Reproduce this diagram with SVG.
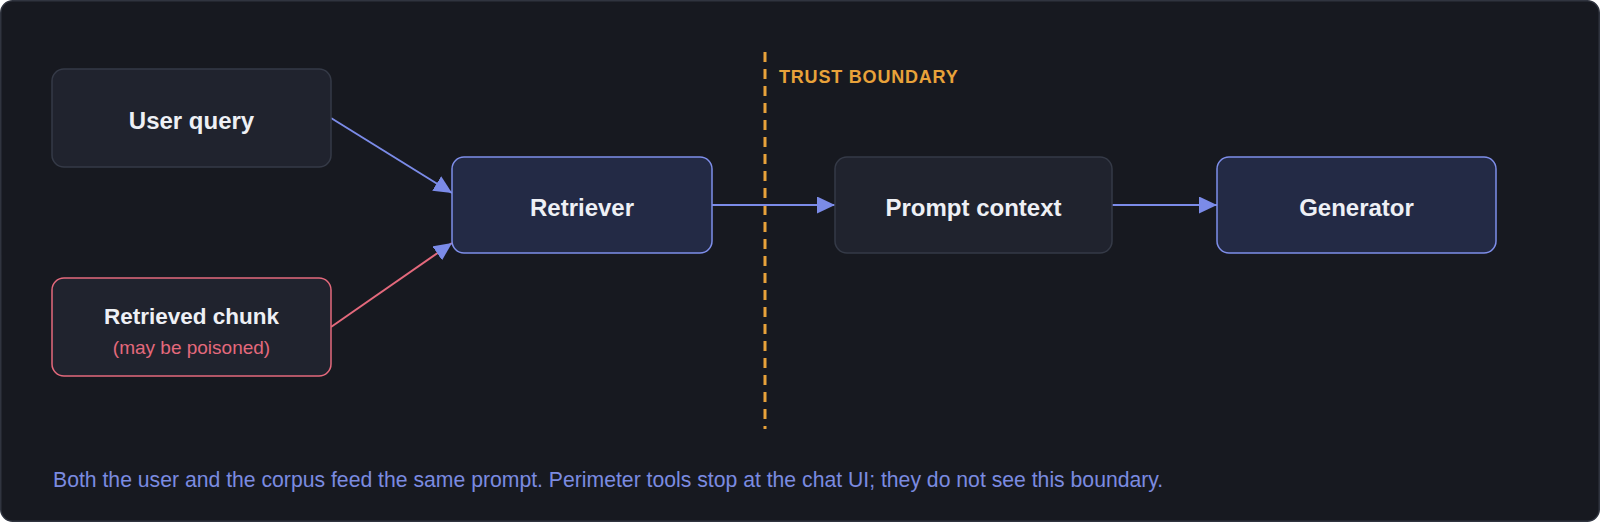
<svg xmlns="http://www.w3.org/2000/svg" width="1600" height="522" viewBox="0 0 1600 522">
<defs>
<style>
.frame{fill:#171920;stroke:#30343f;stroke-width:1.5}
.n-neutral{fill:#20232e;stroke:#353a47;stroke-width:1.5}
.n-blue{fill:#232a45;stroke:#7e8ee9;stroke-width:1.5}
.n-red{fill:#20232e;stroke:#e4697c;stroke-width:1.5}
.lbl{font-family:"Liberation Sans",Arial,sans-serif;font-weight:bold;font-size:24px;fill:#eef0f5;text-anchor:middle}
.sub{font-family:"Liberation Sans",Arial,sans-serif;font-size:19px;fill:#e4697c;text-anchor:middle}
.edge{fill:none;stroke:#7b8be8;stroke-width:2}
.edge-red{fill:none;stroke:#e4697c;stroke-width:2}
.boundary{stroke:#e8a23a;stroke-width:3;stroke-dasharray:10 7}
.blabel{font-family:"Liberation Sans",Arial,sans-serif;font-weight:bold;font-size:18px;letter-spacing:0.8px;fill:#e8a23a}
.foot{font-family:"Liberation Sans",Arial,sans-serif;font-size:21.2px;fill:#7b8be0}
</style>
<marker id="ah" markerUnits="userSpaceOnUse" markerWidth="18" markerHeight="17" refX="18" refY="8.5" orient="auto">
<path d="M0,0 L18,8.5 L0,17 Z" fill="#7b8be8"/>
</marker>
</defs>
<rect class="frame" x="0.75" y="0.75" width="1598.5" height="520.5" rx="12"/>

<g id="boundary">
<line class="boundary" x1="765" y1="52" x2="765" y2="429"/>
<text class="blabel" x="779" y="83">TRUST BOUNDARY</text>
</g>

<g id="connectors">
<line class="edge" x1="331" y1="118" x2="452" y2="193" marker-end="url(#ah)"/>
<line class="edge-red" x1="331" y1="327" x2="452" y2="243" marker-end="url(#ah)"/>
<line class="edge" x1="712" y1="205" x2="835" y2="205" marker-end="url(#ah)"/>
<line class="edge" x1="1112" y1="205" x2="1217" y2="205" marker-end="url(#ah)"/>
</g>

<g id="user-query">
<rect class="n-neutral" x="52" y="69" width="279" height="98" rx="12"/>
<text class="lbl" x="191.5" y="129">User query</text>
</g>

<g id="retrieved-chunk">
<rect class="n-red" x="52" y="278" width="279" height="98" rx="12"/>
<text class="lbl" x="191.5" y="324" style="font-size:22.5px">Retrieved chunk</text>
<text class="sub" x="191.5" y="354">(may be poisoned)</text>
</g>

<g id="retriever">
<rect class="n-blue" x="452" y="157" width="260" height="96" rx="12"/>
<text class="lbl" x="582" y="216">Retriever</text>
</g>

<g id="prompt-context">
<rect class="n-neutral" x="835" y="157" width="277" height="96" rx="12"/>
<text class="lbl" x="973.5" y="216">Prompt context</text>
</g>

<g id="generator">
<rect class="n-blue" x="1217" y="157" width="279" height="96" rx="12"/>
<text class="lbl" x="1356.5" y="216">Generator</text>
</g>

<text class="foot" x="53" y="487">Both the user and the corpus feed the same prompt. Perimeter tools stop at the chat UI; they do not see this boundary.</text>
</svg>
